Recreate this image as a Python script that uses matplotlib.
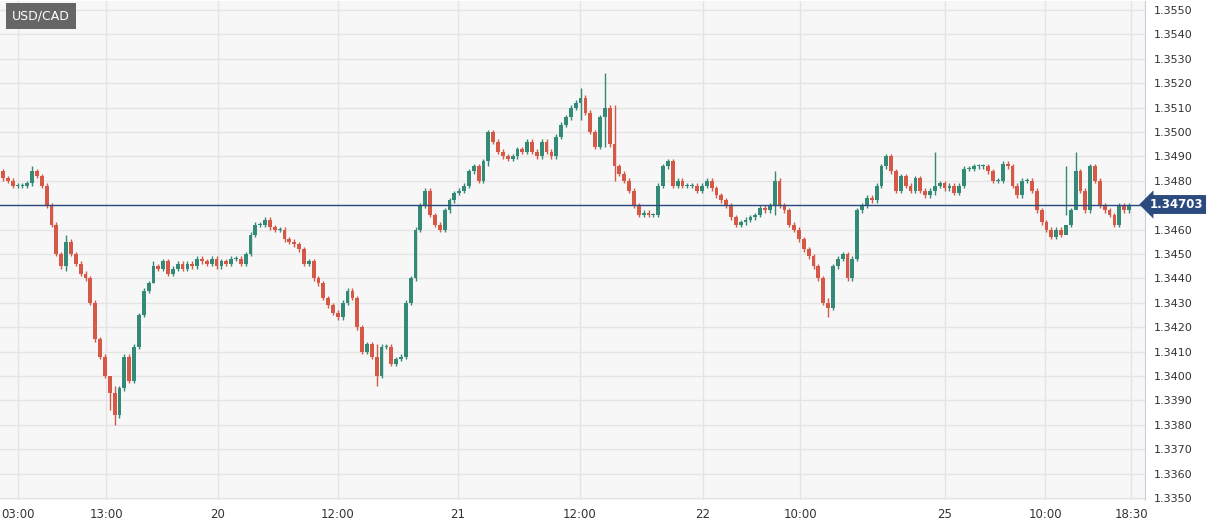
import numpy as np
import matplotlib.pyplot as plt
from matplotlib.patches import Rectangle

# USD/CAD closes left to right
closes = [1.3481, 1.3480, 1.3478, 1.3478, 1.3478, 1.3479, 1.3484, 1.3482, 1.3478, 1.3470,
          1.3462, 1.3450, 1.3445, 1.3455, 1.3450, 1.3446, 1.3442, 1.3440, 1.3430, 1.3415,
          1.3408, 1.3400, 1.3393, 1.3384, 1.3395, 1.3408, 1.3398, 1.3412, 1.3425, 1.3435,
          1.3438, 1.3445, 1.3444, 1.3447, 1.3442, 1.3444, 1.3446, 1.3444, 1.3446, 1.3445,
          1.3448, 1.3447, 1.3446, 1.3448, 1.3445, 1.3447, 1.3446, 1.3448, 1.3448, 1.3446,
          1.3450, 1.3458, 1.3462, 1.3462, 1.3464, 1.3461, 1.3460, 1.3460, 1.3456, 1.3455,
          1.3454, 1.3452, 1.3446, 1.3447, 1.3440, 1.3438, 1.3432, 1.3429, 1.3426, 1.3424,
          1.3430, 1.3435, 1.3432, 1.3420, 1.3410, 1.3413, 1.3408, 1.3400, 1.3412, 1.3412,
          1.3405, 1.3407, 1.3408, 1.3430, 1.3440, 1.3460, 1.3470, 1.3476, 1.3466, 1.3462,
          1.3460, 1.3468, 1.3472, 1.3475, 1.3476, 1.3478, 1.3484, 1.3486, 1.3480, 1.3488,
          1.3500, 1.3496, 1.3492, 1.3490, 1.3489, 1.3490, 1.3493, 1.3492, 1.3496, 1.3492,
          1.3490, 1.3496, 1.3492, 1.3490, 1.3498, 1.3503, 1.3506, 1.3510, 1.3512, 1.3514,
          1.3508, 1.3500, 1.3494, 1.3506, 1.3510, 1.3495, 1.3486, 1.3483, 1.3480, 1.3476,
          1.3470, 1.3466, 1.3467, 1.3466, 1.3466, 1.3478, 1.3486, 1.3488, 1.3478, 1.3480,
          1.3478, 1.3478, 1.3478, 1.3476, 1.3478, 1.3480, 1.3477, 1.3474, 1.3472, 1.3470,
          1.3465, 1.3462, 1.3463, 1.3464, 1.3465, 1.3466, 1.3469, 1.3468, 1.3470, 1.3480,
          1.3470, 1.3468, 1.3462, 1.3460, 1.3456, 1.3452, 1.3449, 1.3445, 1.3440, 1.3430,
          1.3428, 1.3445, 1.3448, 1.3450, 1.3440, 1.3448, 1.3468, 1.3470, 1.3473, 1.3472,
          1.3478, 1.3486, 1.3490, 1.3484, 1.3476, 1.3482, 1.3478, 1.3476, 1.3481, 1.3476,
          1.3474, 1.3476, 1.3478, 1.3479, 1.3477, 1.3478, 1.3475, 1.3478, 1.3485, 1.3485,
          1.3486, 1.3486, 1.3486, 1.3484, 1.3480, 1.3480, 1.3487, 1.3486, 1.3478, 1.3474,
          1.3480, 1.3480, 1.3476, 1.3468, 1.3463, 1.3460, 1.3457, 1.3460, 1.3458, 1.3462,
          1.3468, 1.3484, 1.3476, 1.3468, 1.3486, 1.3480, 1.3470, 1.3468, 1.3466, 1.3462,
          1.3470, 1.3468, 1.3470]
first_open = 1.3484
# notable wick extremes: (candle index, high, low)
spikes = [(6, 1.3486, 1.3478), (13, 1.3458, 1.3443), (23, 1.3396, 1.3380), (22, 1.3400, 1.3386),
          (31, 1.3447, 1.3438), (77, 1.3413, 1.3396), (100, 1.3501, 1.3486),
          (124, 1.3524, 1.3494), (119, 1.3518, 1.3505), (126, 1.3511, 1.3480),
          (159, 1.3484, 1.3466), (170, 1.3432, 1.3424), (192, 1.3492, 1.3474),
          (221, 1.3492, 1.3470), (219, 1.3486, 1.3466)]
last_price = 1.34703
pair = "USD/CAD"
tick_px = [18, 106, 218, 338, 458, 580, 703, 800, 945, 1045, 1131]
tick_labels = ["03:00", "13:00", "20", "12:00", "21", "12:00", "22", "10:00", "25", "10:00", "18:30"]
y_ticks = np.round(np.arange(1.3350, 1.35501, 0.0010), 4)

up_col, dn_col = "#338a76", "#d65846"

fig = plt.figure(figsize=(12.17, 5.26), dpi=100)
fig.patch.set_facecolor("white")
ax = fig.add_axes([0, 26 / 526, 1145 / 1217, 499 / 526])
ax.set_facecolor("#f7f7f7")

n = len(closes)
xs = np.linspace(3, 1129, n)
opens = [first_open] + closes[:-1]
highs = [max(o, c) + 0.0001 for o, c in zip(opens, closes)]
lows = [min(o, c) - 0.0001 for o, c in zip(opens, closes)]
for i, h, l in spikes:
    highs[i], lows[i] = h, l

for x, o, c, h, l in zip(xs, opens, closes, highs, lows):
    col = up_col if c >= o else dn_col
    ax.vlines(x, l, h, color=col, lw=1, zorder=3)
    ax.add_patch(Rectangle((x - 1.9, min(o, c)), 3.8, max(abs(c - o), 0.00004),
                           color=col, lw=0, zorder=4))

ax.set_xlim(0, 1145)
ax.set_ylim(1.33492, 1.35537)
ax.set_xticks(tick_px)
ax.set_xticklabels(tick_labels, fontsize=8.5, color="#333333")
ax.yaxis.tick_right()
ax.set_yticks(y_ticks)
# the 1.3470 label sits under the last-price marker
ax.set_yticklabels(["" if abs(v - 1.3470) < 1e-6 else f"{v:.4f}" for v in y_ticks],
                   fontsize=8, color="#333333")
ax.tick_params(length=0, pad=6)
ax.grid(color="#e4e4e4", lw=1)
for s in ["top", "left", "bottom"]:
    ax.spines[s].set_visible(False)
ax.spines["right"].set_color("#c8cde0")

ax.axhline(last_price, color="#2b4a7e", lw=1, zorder=5)
ax.text(1.004, last_price, f"{last_price:.5f}", transform=ax.get_yaxis_transform(),
        ha="left", va="center", fontsize=8.5, fontweight="bold", color="white",
        bbox=dict(boxstyle="larrow,pad=0.25", fc="#2b4a7e", ec="none"), clip_on=False)

ax.text(12, 1.35475, pair, fontsize=9, color="white", va="center", ha="left",
        bbox=dict(boxstyle="square,pad=0.5", fc="#666666", ec="none"), zorder=6)

fig.savefig("out.png", dpi=100)
